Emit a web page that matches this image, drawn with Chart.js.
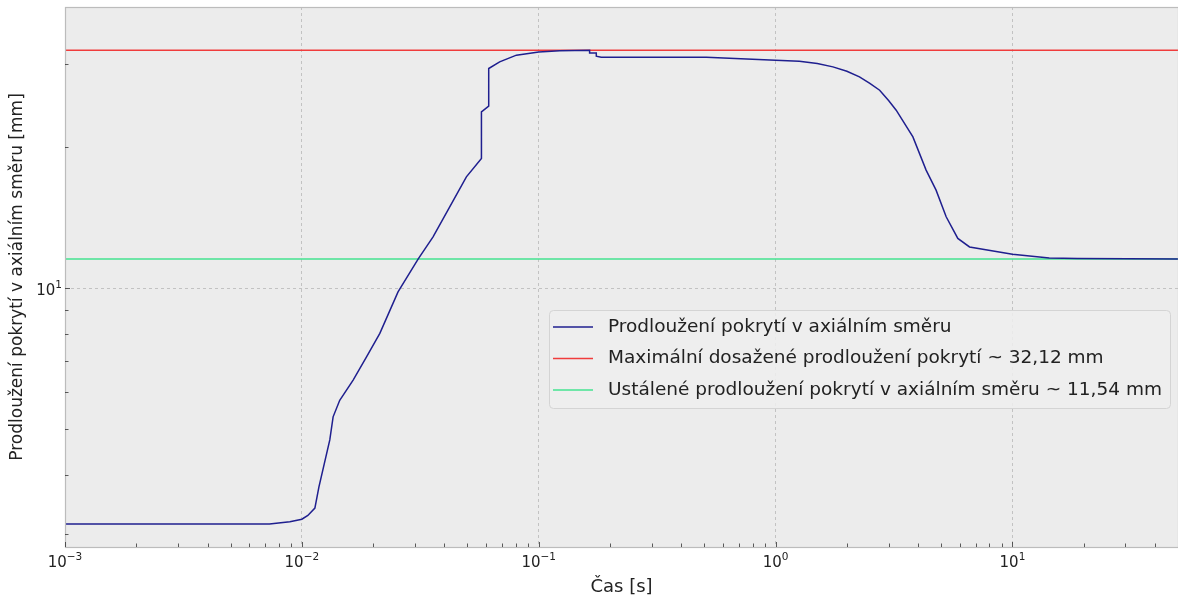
<!DOCTYPE html>
<html>
<head>
<meta charset="utf-8">
<script src="https://cdn.jsdelivr.net/npm/chart.js@4.4.1/dist/chart.umd.min.js"></script>
<style>
  html, body { margin: 0; padding: 0; background: #fff; }
  #wrap { width: 1178px; height: 598px; }
</style>
</head>
<body>
<div id="wrap"><canvas id="chartElong"></canvas></div>
<script>
// time [s] and coating elongation [mm]
const timeS = [
  0.001, 0.0073, 0.0089, 0.01, 0.0106, 0.01135, 0.0118, 0.01312, 0.01355, 0.01445,
  0.01646, 0.01875, 0.02134, 0.02547, 0.031, 0.0358, 0.0421, 0.0495, 0.0573, 0.0573,
  0.0615, 0.0615, 0.0684, 0.0805, 0.1, 0.1228, 0.164, 0.164, 0.175, 0.175,
  0.1836, 0.51, 1.0, 1.26, 1.5, 1.746, 2.0, 2.26, 2.5, 2.75,
  3.0, 3.23, 3.8, 4.32, 4.76, 5.25, 5.88, 6.59, 10, 14.3,
  18.8, 50
];
const elongMm = [
  3.145, 3.145, 3.18, 3.22, 3.28, 3.40, 3.77, 4.75, 5.32, 5.77,
  6.37, 7.14, 8.01, 9.82, 11.54, 12.86, 14.9, 17.26, 18.89, 23.74,
  24.41, 29.36, 30.34, 31.35, 31.83, 32.05, 32.12, 31.7, 31.7, 31.19,
  31.04, 31.04, 30.59, 30.44, 30.1, 29.6, 28.97, 28.18, 27.3, 26.4,
  25.1, 23.93, 21.0, 17.84, 16.17, 14.19, 12.76, 12.24, 11.81, 11.6,
  11.56, 11.54
];

const maxElong = 32.12;
const steadyElong = 11.54;

const seriesLabels = [
  'Prodloužení pokrytí v axiálním směru',
  'Maximální dosažené prodloužení pokrytí ~ 32,12 mm',
  'Ustálené prodloužení pokrytí v axiálním směru ~ 11,54 mm'
];
const seriesColors = ['#1f1f8f', '#f03c3c', '#45e391'];

const xRange = [0.001, 50];
const yRange = [2.81, 39.7];
const xMajorTicks = [0.001, 0.01, 0.1, 1, 10];
const xTickExps = ['−3', '−2', '−1', '0', '1'];
const yMajorTicks = [10];
const yTickExps = ['1'];
const xMinorTicks = [];
[0.001, 0.01, 0.1, 1, 10].forEach(d => {
  for (let m = 2; m <= 9; m++) if (d * m <= xRange[1]) xMinorTicks.push(d * m);
});
const yMinorTicks = [3, 4, 5, 6, 7, 8, 9, 20, 30];

const FONT = 'DejaVu Sans';

const curve = timeS.map((t, i) => ({ x: t, y: elongMm[i] }));
const maxLine = xRange.map(t => ({ x: t, y: maxElong }));
const steadyLine = xRange.map(t => ({ x: t, y: steadyElong }));

// "10" with a raised exponent; align = 'center' or 'right'
function powerLabel(ctx, exp, x, baseY, align) {
  ctx.font = '15px "' + FONT + '"';
  const wBase = ctx.measureText('10').width;
  ctx.font = '10.5px "' + FONT + '"';
  const wExp = ctx.measureText(exp).width;
  const total = wBase + wExp;
  const x0 = align === 'right' ? x - total : x - total / 2;
  ctx.textAlign = 'left';
  ctx.textBaseline = 'alphabetic';
  ctx.font = '15px "' + FONT + '"';
  ctx.fillText('10', x0, baseY);
  ctx.font = '10.5px "' + FONT + '"';
  ctx.fillText(exp, x0 + wBase, baseY - 7);
}

// plot background, frame, inward ticks and power-of-ten labels
const framePlugin = {
  id: 'frame',
  beforeDraw(chart) {
    const { ctx, chartArea: a } = chart;
    ctx.save();
    ctx.fillStyle = '#ececec';
    ctx.fillRect(a.left, a.top, a.right - a.left, a.bottom - a.top);
    ctx.restore();
  },
  afterDraw(chart) {
    const { ctx, chartArea: a, scales } = chart;
    ctx.save();
    ctx.strokeStyle = '#bcbcbc';
    ctx.lineWidth = 1.2;
    ctx.strokeRect(a.left + 0.5, a.top + 0.5, a.right - a.left, a.bottom - a.top);
    ctx.strokeStyle = '#333';
    ctx.lineWidth = 0.8;
    ctx.beginPath();
    xMinorTicks.forEach(v => {
      const px = Math.round(scales.x.getPixelForValue(v)) + 0.5;
      ctx.moveTo(px, a.bottom); ctx.lineTo(px, a.bottom - 3.5);
    });
    xMajorTicks.forEach(v => {
      const px = Math.round(scales.x.getPixelForValue(v)) + 0.5;
      ctx.moveTo(px, a.bottom); ctx.lineTo(px, a.bottom - 5);
    });
    yMinorTicks.forEach(v => {
      const py = Math.round(scales.y.getPixelForValue(v)) + 0.5;
      ctx.moveTo(a.left, py); ctx.lineTo(a.left + 3.5, py);
    });
    yMajorTicks.forEach(v => {
      const py = Math.round(scales.y.getPixelForValue(v)) + 0.5;
      ctx.moveTo(a.left, py); ctx.lineTo(a.left + 5, py);
    });
    ctx.stroke();

    ctx.fillStyle = '#222';
    xMajorTicks.forEach((v, i) => {
      powerLabel(ctx, xTickExps[i], scales.x.getPixelForValue(v), a.bottom + 19.5, 'center');
    });
    yMajorTicks.forEach((v, i) => {
      powerLabel(ctx, yTickExps[i], a.left - 3, scales.y.getPixelForValue(v) + 6.5, 'right');
    });
    ctx.restore();
  }
};

// legend box inside the plot area
const legendPlugin = {
  id: 'boxLegend',
  afterDraw(chart) {
    const { ctx } = chart;
    const bx = 549, by = 310, bw = 621, bh = 98, rowH = 31.5;
    ctx.save();
    ctx.fillStyle = 'rgba(238,238,238,0.85)';
    ctx.strokeStyle = '#d4d4d4';
    ctx.lineWidth = 1;
    ctx.beginPath();
    ctx.roundRect(bx + 0.5, by + 0.5, bw, bh, 4);
    ctx.fill();
    ctx.stroke();
    ctx.font = '18.5px "' + FONT + '"';
    ctx.textBaseline = 'middle';
    chart.data.datasets.forEach((ds, i) => {
      const cy = by + 17 + i * rowH;
      ctx.strokeStyle = ds.borderColor;
      ctx.lineWidth = 1.5;
      ctx.beginPath();
      ctx.moveTo(bx + 4, cy); ctx.lineTo(bx + 44, cy);
      ctx.stroke();
      ctx.fillStyle = '#222';
      ctx.fillText(ds.label, bx + 59, cy);
    });
    ctx.restore();
  }
};

new Chart(document.getElementById('chartElong'), {
  type: 'line',
  data: {
    datasets: [
      { label: seriesLabels[0], data: curve, borderColor: seriesColors[0], borderWidth: 1.5 },
      { label: seriesLabels[1], data: maxLine, borderColor: seriesColors[1], borderWidth: 1.5 },
      { label: seriesLabels[2], data: steadyLine, borderColor: seriesColors[2], borderWidth: 1.5 }
    ]
  },
  options: {
    responsive: true,
    maintainAspectRatio: false,
    animation: false,
    parsing: false,
    elements: { point: { radius: 0 }, line: { tension: 0 } },
    layout: { padding: { top: 7, right: 0, left: 0, bottom: 0 }, autoPadding: false },
    plugins: { legend: { display: false }, tooltip: { enabled: false } },
    scales: {
      x: {
        type: 'logarithmic',
        min: xRange[0], max: xRange[1],
        afterBuildTicks: s => { s.ticks = xMajorTicks.map(v => ({ value: v })); },
        afterFit: s => { s.height = 51; s.paddingLeft = 0; s.paddingRight = 0; },
        ticks: { display: false },
        grid: { color: '#b8b8b8', lineWidth: 0.8, drawTicks: false },
        border: { display: false, dash: [3, 3] },
        title: {
          display: true, text: 'Čas [s]', color: '#222',
          font: { family: FONT, size: 18 }, padding: { top: 0, bottom: 0 }
        }
      },
      y: {
        type: 'logarithmic',
        min: yRange[0], max: yRange[1],
        afterBuildTicks: s => { s.ticks = yMajorTicks.map(v => ({ value: v })); },
        afterFit: s => { s.width = 65; s.paddingTop = 0; s.paddingBottom = 0; },
        ticks: { display: false },
        grid: { color: '#b8b8b8', lineWidth: 0.8, drawTicks: false },
        border: { display: false, dash: [3, 3] },
        title: {
          display: true, text: 'Prodloužení pokrytí v axiálním směru [mm]', color: '#222',
          font: { family: FONT, size: 17 }, padding: { top: 7.5, bottom: 0 }
        }
      }
    }
  },
  plugins: [framePlugin, legendPlugin]
});
</script>
</body>
</html>
